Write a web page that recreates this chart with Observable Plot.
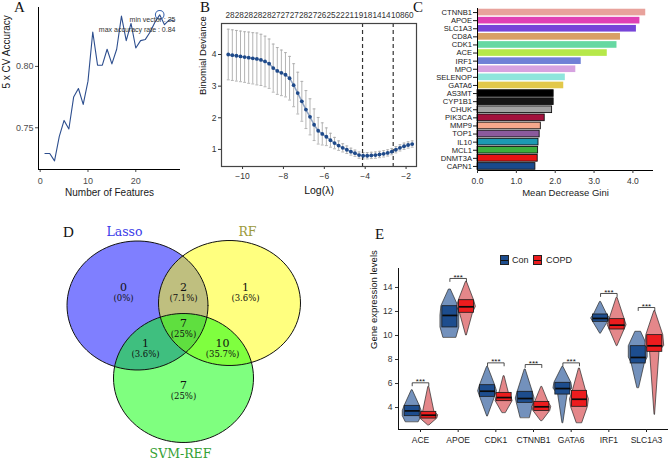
<!DOCTYPE html>
<html><head><meta charset="utf-8">
<script src="https://cdn.jsdelivr.net/npm/d3@7"></script>
<script src="https://cdn.jsdelivr.net/npm/@observablehq/plot@0.6"></script>
<style>
body{margin:0;background:#fff;}
#root{position:relative;width:669px;height:459px;overflow:hidden;font-family:"Liberation Sans",Arial,sans-serif;background:#fff;}
.lab{position:absolute;font-family:"Liberation Serif","DejaVu Serif",serif;font-size:15px;line-height:1;color:#111;}
.leg{position:absolute;font-size:9px;color:#222;line-height:11px;}
.sw{position:absolute;width:9px;height:10px;border:1px solid #222;box-sizing:border-box;}
.sw:after{content:"";position:absolute;left:0;right:0;top:3.5px;height:1.5px;background:#111;}
</style></head><body><div id="root"></div>
<script>
// ---------- Panel A: RF-RFE accuracy ----------
const rfeFeatures = [1,2,3,4,5,6,7,8,9,10,11,12,13,14,15,16,17,18,19,20,21,22,23,24,25,26,27,28];
const rfeAccuracy = [0.729,0.729,0.723,0.743,0.756,0.749,0.775,0.782,0.769,0.788,0.828,0.801,0.801,0.814,0.802,0.814,0.841,0.821,0.835,0.815,0.821,0.822,0.828,0.836,0.842,0.834,0.838,0.837];
const rfeBest = 25;

// ---------- Panel B: LASSO CV ----------
const lassoLogLambda = [-10.7,-10.5,-10.3,-10.1,-9.9,-9.7,-9.5,-9.3,-9.1,-8.9,-8.7,-8.5,-8.3,-8.1,-7.9,-7.7,-7.5,-7.3,-7.1,-6.9,-6.7,-6.5,-6.3,-6.1,-5.9,-5.7,-5.5,-5.3,-5.1,-4.9,-4.7,-4.5,-4.3,-4.1,-3.9,-3.7,-3.5,-3.3,-3.1,-2.9,-2.7,-2.5,-2.3,-2.1,-1.9,-1.7];
const lassoDeviance = [4.00,3.98,3.96,3.94,3.92,3.90,3.88,3.86,3.83,3.78,3.71,3.57,3.48,3.42,3.36,3.25,3.03,2.78,2.52,2.26,2.03,1.78,1.59,1.49,1.40,1.29,1.20,1.12,1.05,0.99,0.93,0.88,0.82,0.80,0.80,0.81,0.82,0.84,0.86,0.89,0.93,0.99,1.05,1.10,1.14,1.17];
const lassoSE = [0.80,0.80,0.80,0.80,0.80,0.81,0.81,0.82,0.81,0.80,0.78,0.76,0.74,0.72,0.70,0.69,0.68,0.66,0.63,0.60,0.57,0.50,0.42,0.35,0.28,0.22,0.18,0.15,0.13,0.12,0.11,0.10,0.10,0.10,0.10,0.10,0.10,0.10,0.10,0.10,0.10,0.10,0.10,0.10,0.10,0.10];
const lassoMinLogLambda = -4.13;
const lasso1seLogLambda = -2.63;
const lassoNzero = [28,28,28,28,28,27,27,27,28,27,26,25,22,21,19,18,14,14,10,8,6,0];
const lassoNzeroAt = [-10.61,-10.16,-9.71,-9.26,-8.81,-8.36,-7.92,-7.47,-7.02,-6.57,-6.12,-5.67,-5.22,-4.77,-4.32,-3.87,-3.42,-2.98,-2.52,-2.19,-1.97,-1.74];

// ---------- Panel C: RF importance ----------
const rfGenes = ["CTNNB1","APOE","SLC1A3","CD8A","CDK1","ACE","IRF1","MPO","SELENOP","GATA6","AS3MT","CYP1B1","CHUK","PIK3CA","MMP9","TOP1","IL10","MCL1","DNMT3A","CAPN1"];
const rfGini = [4.33,4.18,4.09,3.68,3.59,3.34,2.67,2.53,2.26,2.22,1.96,1.96,1.92,1.73,1.63,1.60,1.57,1.56,1.55,1.49];
const rfColors = ["#E8A29C","#E040B4","#7744D8","#D8A066","#66D8A2","#B6E84A","#6F80D6","#D6A2E0","#8EE6DC","#E2C84A","#000000","#161616","#A3A3A3","#A3103C","#F6A88C","#8A5A9C","#1C9AB2","#3DAE3D","#E81212","#1A4A8C"];
const rfOutlined = [false,false,false,false,false,false,false,false,false,false,true,true,true,true,true,true,true,true,true,true];

// ---------- Panel D: Venn ----------
const vennSets = ["Lasso","RF","SVM-REF"];
const vennFill = ["#0000FF","#FFFF00","#00FF00"];
const vennLabelColor = ["#3A3AE8","#9C9A3C","#33A033"];
const vennCx = [137,229,183];
const vennCy = [105,102.5,177.5];
const vennRx = [70.5,71,70];
const vennRy = [64.5,62.5,64.5];
const vennLabelX = [124,247,180];
const vennLabelY = [31,31,253];
const vennRegionCount = [0,2,1,7,1,10,7];
const vennRegionX = [123,183,245,183,145,222,183];
const vennRegionY = [86.5,86.5,86.5,122.5,142.5,142.5,184.5];
const vennTotal = 28;

// ---------- Panel E: expression ----------
const exprGenes = ["ACE","APOE","CDK1","CTNNB1","GATA6","IRF1","SLC1A3"];
// [min, q1, median, q3, max]
const conStats = [[2.80,3.28,3.72,4.14,5.44],[9.83,10.67,11.67,12.44,13.83],[3.28,4.89,5.36,5.86,7.39],[3.14,4.39,4.75,5.31,7.17],[2.72,5.08,5.58,6.06,7.39],[10.17,11.14,11.42,11.75,12.80],[5.64,7.67,8.17,9.11,10.31]];
const copdStats = [[2.53,3.08,3.36,3.64,5.72],[10.03,11.89,12.39,12.94,14.47],[3.56,4.53,4.83,5.22,6.61],[2.89,3.72,4.06,4.47,5.72],[2.72,4.06,4.69,5.39,7.25],[9.14,10.50,10.86,11.36,13.14],[3.42,8.64,9.14,10.03,12.03]];
// relative violin width at [min, q1, median, q3, max]
const conViolinWidth = [[0.7,1,1,0.8,0.05],[0.7,1,1,0.9,0.1],[0.05,0.8,1,0.8,0.05],[0.5,0.9,1,0.8,0.05],[0.05,0.5,1,0.9,0.05],[0.05,0.8,1,0.7,0.05],[0.1,0.7,1,1,0.3]];
const copdViolinWidth = [[0.1,0.9,1,0.6,0.05],[0.05,0.7,1,0.8,0.05],[0.2,0.9,0.8,0.5,0.05],[0.1,0.9,1,0.7,0.05],[0.3,0.9,1,0.7,0.05],[0.05,0.8,1,0.8,0.05],[0.03,0.5,1,0.9,0.05]];
const sigBracketTop = [6.06,14.75,7.72,7.58,7.72,13.5,12.33];
const sigLabel = ["***","***","***","***","***","***","***"];
const groups = ["Con","COPD"];
const groupViolin = ["#7391BC","#E4878A"];
const groupBox = ["#1D4D8E","#EC1C1E"];

// ================= drawing =================
const root = document.getElementById("root");
function place(node, left, top){ node.style.position="absolute"; node.style.left=left+"px"; node.style.top=top+"px"; root.appendChild(node); }
const base = {fontFamily:'"Liberation Sans", Arial, sans-serif', fontSize:"9px", background:"transparent", overflow:"visible"};
function label(t, left, top){ const d=document.createElement("div"); d.className="lab"; d.textContent=t; d.style.left=left+"px"; d.style.top=top+"px"; root.appendChild(d); }

// ---- A ----
const rfeRows = rfeFeatures.map((n,i)=>({n, acc: rfeAccuracy[i]}));
const best = rfeRows.find(d=>d.n===rfeBest);
const maxAcc = d3.format(".2f")(d3.max(rfeAccuracy));
const xA = [-0.35, 29.35], yA = [0.716, 0.848];
place(Plot.plot({
  width:200, height:200, marginLeft:38, marginRight:20, marginTop:7, marginBottom:31,
  style: base, x:{domain:xA}, y:{domain:yA},
  marks:[
    Plot.axisX({ticks:[0,10,20], tickSize:3, tickPadding:5, fontSize:9, color:"#4d4d4d", label:null}),
    Plot.axisY({ticks:[0.75,0.80], tickFormat:d3.format(".2f"), tickSize:3, tickPadding:2, fontSize:9, color:"#4d4d4d", label:null}),
    Plot.ruleX([xA[0]], {stroke:"#000"}),
    Plot.ruleY([yA[0]], {stroke:"#000"}),
    Plot.line(rfeRows, {x:"n", y:"acc", stroke:"#2D4E8E", strokeWidth:1.1}),
    Plot.dot([best], {x:"n", y:"acc", r:4.3, stroke:"#3F68B0", strokeWidth:1.1, fill:"none"}),
    Plot.text([`min vector : ${rfeBest}`], {frameAnchor:"top-right", textAnchor:"end", lineAnchor:"middle", dx:-5, dy:12, fontSize:7, fill:"#333"}),
    Plot.text([`max accuracy rate : ${maxAcc}`], {frameAnchor:"top-right", textAnchor:"end", lineAnchor:"middle", dx:-5, dy:22, fontSize:7, fill:"#333"}),
    Plot.text(["Number of Features"], {frameAnchor:"bottom", lineAnchor:"middle", dy:23, fontSize:10, fill:"#1a1a1a"}),
    Plot.text(["5 x CV Accuracy"], {frameAnchor:"left", rotate:-90, lineAnchor:"middle", dx:-32, fontSize:10, fill:"#1a1a1a"})
  ]
}), 0, 0);

// ---- B ----
const lassoRows = lassoLogLambda.map((l,i)=>({l, m: lassoDeviance[i], lo: lassoDeviance[i]-lassoSE[i], hi: lassoDeviance[i]+lassoSE[i]}));
const nzRows = lassoNzero.map((n,i)=>({n, l: lassoNzeroAt[i]}));
const capW = 0.07;
place(Plot.plot({
  width:265, height:200, marginLeft:61, marginRight:9, marginTop:23, marginBottom:34,
  style: base, x:{domain:[-11.03,-1.49]}, y:{domain:[0.46,4.98]},
  marks:[
    Plot.axisX({ticks:[-10,-8,-6,-4,-2], tickFormat:d3.format("d"), tickSize:3, tickPadding:3, fontSize:8.5, color:"#333", label:null}),
    Plot.axisY({ticks:[1,2,3,4], tickFormat:d3.format("d"), tickSize:3, tickPadding:2, fontSize:8.5, color:"#333", label:null}),
    Plot.ruleX(lassoRows, {x:"l", y1:"lo", y2:"hi", stroke:"#ababab", strokeWidth:0.9}),
    Plot.link(lassoRows, {x1:d=>d.l-capW, x2:d=>d.l+capW, y1:"hi", y2:"hi", stroke:"#ababab", strokeWidth:0.9}),
    Plot.link(lassoRows, {x1:d=>d.l-capW, x2:d=>d.l+capW, y1:"lo", y2:"lo", stroke:"#ababab", strokeWidth:0.9}),
    Plot.ruleX([lassoMinLogLambda, lasso1seLogLambda], {stroke:"#333", strokeWidth:1.2, strokeDasharray:"4,3"}),
    Plot.line(lassoRows, {x:"l", y:"m", stroke:"#1F4A8A", strokeWidth:1.5, strokeOpacity:0.5}),
    Plot.dot(lassoRows, {x:"l", y:"m", r:1.9, fill:"#1F4A8A"}),
    Plot.frame({stroke:"#444", strokeWidth:1.2}),
    Plot.text(nzRows, {x:"l", text:d=>String(d.n), frameAnchor:"top", lineAnchor:"middle", dy:-8, fontSize:8.2, fill:"#333"}),
    Plot.text(["Log(\u03bb)"], {frameAnchor:"bottom", lineAnchor:"middle", dy:24, fontSize:10.5, fill:"#111"}),
    Plot.text(["Binomial Deviance"], {frameAnchor:"left", rotate:-90, lineAnchor:"middle", dx:-19, fontSize:9.5, fill:"#111"})
  ]
}), 160, 0);

// ---- C ----
const rfRows = rfGenes.map((g,i)=>({i, g, v: rfGini[i], c: rfColors[i], o: rfOutlined[i]}));
place(Plot.plot({
  width:249, height:200, marginLeft:57, marginRight:16, marginTop:8, marginBottom:30,
  style: base, x:{domain:[0,4.53]}, y:{domain:[19.5,-0.5]}, color:{type:"identity"},
  marks:[
    Plot.rectX(rfRows.filter(d=>!d.o), {x1:0, x2:"v", y1:d=>d.i-0.41, y2:d=>d.i+0.41, fill:"c"}),
    Plot.rectX(rfRows.filter(d=>d.o), {x1:0, x2:"v", y1:d=>d.i-0.41, y2:d=>d.i+0.41, fill:"c", stroke:"#111", strokeWidth:0.9}),
    Plot.ruleX([0], {stroke:"#000"}),
    Plot.ruleY([19.5], {stroke:"#000"}),
    Plot.axisY({ticks:rfRows.map(d=>d.i), tickFormat:i=>rfGenes[i], tickSize:4, tickPadding:1.5, fontSize:7.6, color:"#1a1a1a", label:null}),
    Plot.axisX({ticks:[0,1,2,3,4], tickSize:3, tickPadding:4, fontSize:8.5, color:"#333", label:null}),
    Plot.text(["Mean Decrease Gini"], {frameAnchor:"bottom", lineAnchor:"middle", dy:22, fontSize:9.5, fill:"#1a1a1a"})
  ]
}), 420, 0);

// ---- D ----
const angles = d3.range(0, 361, 4).map(a=>a*Math.PI/180);
const vennShapes = vennSets.map((s,k)=>angles.map(t=>({set:s, x: vennCx[k]+vennRx[k]*Math.cos(t), y: vennCy[k]+vennRy[k]*Math.sin(t)})));
const vennRegions = vennRegionCount.map((c,i)=>({c, x: vennRegionX[i], y: vennRegionY[i], p: "(" + (Math.round(c/vennTotal*1000)/10) + "%)"}));
const vennLabels = vennSets.map((s,k)=>({s, x: vennLabelX[k], y: vennLabelY[k], col: vennLabelColor[k]}));
const serif = '"DejaVu Serif","Liberation Serif",serif';
place(Plot.plot({
  width:340, height:259, margin:0,
  style: base, x:{axis:null, domain:[0,340], range:[0,340]}, y:{axis:null, domain:[0,259], range:[0,259]}, color:{type:"identity"},
  marks:[
    ...vennShapes.map((pts,k)=>Plot.line(pts, {x:"x", y:"y", fill:vennFill[k], fillOpacity:0.5, stroke:"none"})),
    ...vennShapes.map(pts=>Plot.line(pts, {x:"x", y:"y", stroke:"#111", strokeWidth:1, fill:"none"})),
    Plot.text(vennRegions, {x:"x", y:"y", text:d=>String(d.c), fontSize:11, fontFamily:serif, fill:"#111", lineAnchor:"middle"}),
    Plot.text(vennRegions, {x:"x", y:d=>d.y+11, text:"p", fontSize:8.5, fontFamily:serif, fill:"#111", lineAnchor:"middle"}),
    Plot.text(vennLabels, {x:"x", y:"y", text:"s", fill:"col", fontSize:12.5, fontFamily:serif, lineAnchor:"middle"})
  ]
}), 0, 200);

// ---- E ----
const off = 0.22, boxHalf = 0.2, violinHalf = 0.25;
const statRows = [], violinRows = [];
exprGenes.forEach((g,i)=>{
  [conStats, copdStats].forEach((S,gi)=>{
    const st = S[i], W = (gi===0?conViolinWidth:copdViolinWidth)[i];
    const c = i + (gi===0 ? -off : off);
    statRows.push({g, gi, c, min:st[0], q1:st[1], med:st[2], q3:st[3], max:st[4]});
    st.forEach((v,k)=>violinRows.push({key:g+gi, gi, c, v, hw: W[k]*violinHalf}));
  });
});
const bracketRows = [];
exprGenes.forEach((g,i)=>{
  const t = sigBracketTop[i];
  [[i-off,t-0.25],[i-off,t],[i+off,t],[i+off,t-0.25]].forEach(([x,y])=>bracketRows.push({g,x,y}));
});
const sigRows = exprGenes.map((g,i)=>({x:i, y:sigBracketTop[i], s:sigLabel[i]}));
const xE = [-0.584, 6.584], yE = [2.17, 15.58];
place(Plot.plot({
  width:329, height:259, marginLeft:58, marginRight:1, marginTop:68, marginBottom:30,
  style: base, x:{domain:xE}, y:{domain:yE},
  marks:[
    ...[0,1].map(gi=>Plot.areaX(violinRows.filter(d=>d.gi===gi), {y:"v", x1:d=>d.c-d.hw, x2:d=>d.c+d.hw, z:"key", fill:groupViolin[gi], stroke:"#2a2a2a", strokeWidth:0.7})),
    ...[0,1].map(gi=>Plot.rect(statRows.filter(d=>d.gi===gi), {x1:d=>d.c-boxHalf, x2:d=>d.c+boxHalf, y1:"q1", y2:"q3", fill:groupBox[gi], stroke:"#1a1a1a", strokeWidth:0.8})),
    Plot.link(statRows, {x1:d=>d.c-boxHalf, x2:d=>d.c+boxHalf, y1:"med", y2:"med", stroke:"#0a0a0a", strokeWidth:1.7}),
    Plot.line(bracketRows, {x:"x", y:"y", z:"g", stroke:"#222", strokeWidth:0.8}),
    Plot.text(sigRows, {x:"x", y:"y", text:"s", lineAnchor:"bottom", dy:1.5, fontSize:8, fill:"#111"}),
    Plot.ruleX([xE[0]], {stroke:"#111"}),
    Plot.ruleY([yE[0]], {stroke:"#111"}),
    Plot.axisX({ticks:[0,1,2,3,4,5,6], tickFormat:i=>exprGenes[i], tickSize:3, tickPadding:4, fontSize:8.5, color:"#222", label:null}),
    Plot.axisY({ticks:[4,6,8,10,12,14], tickSize:3, tickPadding:3, fontSize:8.5, color:"#333", label:null}),
    Plot.text(["Gene expression levels"], {frameAnchor:"left", rotate:-90, lineAnchor:"middle", dx:-25, fontSize:9.5, fill:"#111"})
  ]
}), 340, 200);

// legend for E
[[500,groupBox[0],512,"Con"],[533,groupBox[1],546,"COPD"]].forEach(([sx,col,tx,t])=>{
  const s=document.createElement("div"); s.className="sw"; s.style.left=sx+"px"; s.style.top="255px"; s.style.background=col; root.appendChild(s);
  const l=document.createElement("div"); l.className="leg"; l.textContent=t; l.style.left=tx+"px"; l.style.top="254.5px"; root.appendChild(l);
});

// panel letters
label("A", 14, 0); label("B", 200, 0); label("C", 413, 0); label("D", 63, 225); label("E", 375, 227);
</script></body></html>
